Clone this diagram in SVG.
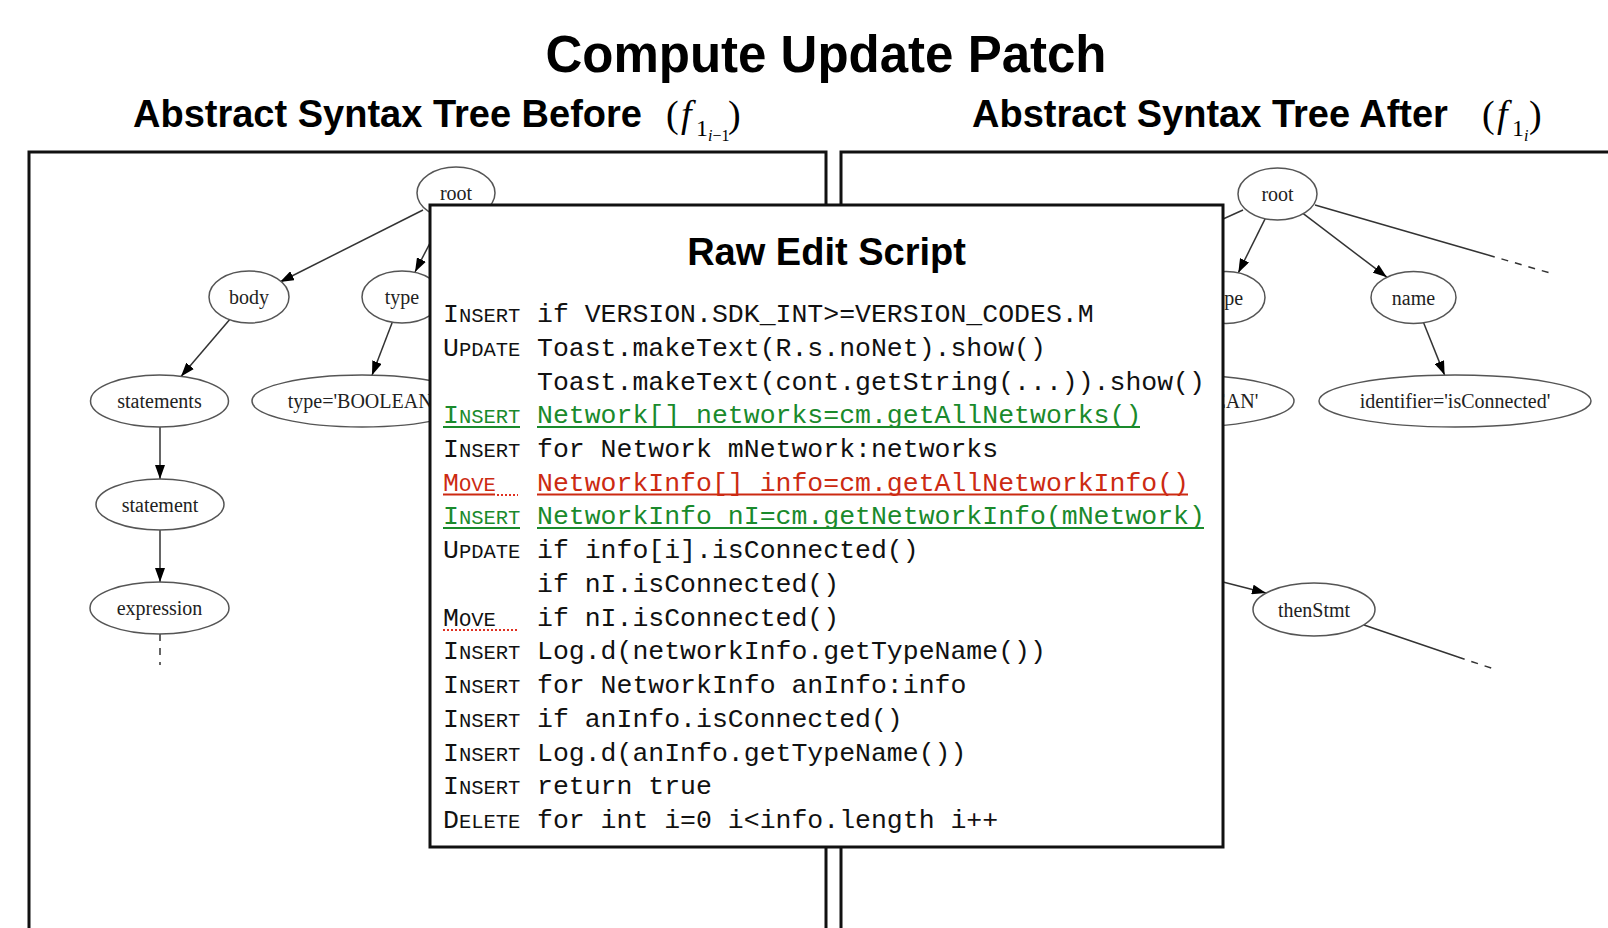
<svg xmlns="http://www.w3.org/2000/svg" width="1608" height="928" viewBox="0 0 1608 928">
<style>
.title{font-family:"Liberation Sans",Arial,sans-serif;font-weight:bold;font-size:51px;fill:#000}
.sub{font-family:"Liberation Sans",Arial,sans-serif;font-weight:bold;font-size:38px;fill:#000}
.math{font-family:"Liberation Serif","Times New Roman",serif;fill:#000}
.frame{fill:none;stroke:#111;stroke-width:3}
.box{fill:#fff;stroke:#111;stroke-width:3}
.node ellipse{fill:#fff;stroke:#555;stroke-width:1.5}
.node text{font-family:"Liberation Serif","Times New Roman",serif;font-size:20px;fill:#222;text-anchor:middle}
.edge{stroke:#333;stroke-width:1.5;fill:none}
.arrow{marker-end:url(#ah)}
.dash{stroke-dasharray:7 7}
.code{font-family:"Liberation Mono","Courier New",monospace;font-size:26.5px;fill:#111;white-space:pre}
.sc{font-size:20.5px}
.g{fill:#1a8a2c}
.r{fill:#cc2a12}
.ug{stroke:#1a8a2c;stroke-width:2}
.ur{stroke:#cc2a12;stroke-width:2}
.dot{stroke:#e03020;stroke-width:2;stroke-dasharray:2 2}
.bt{font-family:"Liberation Sans",Arial,sans-serif;font-weight:bold;font-size:38px;fill:#000;text-anchor:middle}
</style>
<defs>
<marker id="ah" markerWidth="14" markerHeight="10" refX="14" refY="5" orient="auto" markerUnits="userSpaceOnUse"><path d="M0,0 L14,5 L0,10 z" fill="#000"/></marker>
<clipPath id="rightvis"><rect x="1223" y="0" width="400" height="928"/></clipPath>
<clipPath id="leftvis"><rect x="0" y="0" width="430" height="928"/><rect x="0" y="0" width="1608" height="205"/></clipPath>
</defs>

<g id="titles">
<text class="title" x="826" y="72" text-anchor="middle">Compute Update Patch</text>
<text class="sub" x="133" y="127">Abstract Syntax Tree Before</text>
<text class="math"><tspan x="666" y="127" font-size="38">(</tspan><tspan x="681" y="127" font-size="38" font-style="italic">f</tspan><tspan x="696" y="136" font-size="24">1</tspan><tspan x="708" y="141" font-size="16" font-style="italic">i</tspan><tspan font-size="16">−1</tspan><tspan x="728" y="127" font-size="38">)</tspan></text>
<text class="sub" x="972" y="127">Abstract Syntax Tree After</text>
<text class="math"><tspan x="1482" y="127" font-size="38">(</tspan><tspan x="1497" y="127" font-size="38" font-style="italic">f</tspan><tspan x="1512" y="136" font-size="24">1</tspan><tspan x="1524" y="141" font-size="16" font-style="italic">i</tspan><tspan x="1529" y="127" font-size="38">)</tspan></text>
</g>

<g id="frames">
<rect class="frame" x="29" y="152" width="797" height="800"/>
<rect class="frame" x="841" y="152" width="800" height="800"/>
</g>

<g id="connectors">
<line class="edge arrow" x1="423" y1="210" x2="280" y2="282"/>
<line class="edge arrow" x1="443" y1="218" x2="415" y2="272"/>
<line class="edge arrow" x1="229.5" y1="319.7" x2="181" y2="376.5"/>
<line class="edge arrow" x1="392.3" y1="322.2" x2="372" y2="375.2"/>
<line class="edge arrow" x1="160" y1="427" x2="160" y2="479"/>
<line class="edge arrow" x1="160" y1="530" x2="160" y2="582"/>
<line class="edge dash" x1="160" y1="634" x2="160" y2="665"/>
<line class="edge" x1="1243" y1="210" x2="1130" y2="261"/>
<line class="edge arrow" x1="1265.2" y1="218.7" x2="1238.3" y2="272.8"/>
<line class="edge arrow" x1="1303.3" y1="213.7" x2="1386.9" y2="277.2"/>
<line class="edge" x1="1315" y1="205" x2="1488" y2="255"/>
<line class="edge dash" x1="1488" y1="255" x2="1550" y2="273"/>
<line class="edge arrow" x1="1423.6" y1="322.8" x2="1444.6" y2="375.1"/>
<line class="edge arrow" x1="1180" y1="571" x2="1266" y2="593"/>
<line class="edge" x1="1364" y1="625" x2="1458" y2="657"/>
<line class="edge dash" x1="1458" y1="657" x2="1497" y2="670"/>
</g>

<g id="node-root-before" class="node"><ellipse cx="456" cy="193" rx="39" ry="26"/><text x="456" y="200">root</text></g>
<g id="node-body" class="node"><ellipse cx="249" cy="297" rx="40" ry="26"/><text x="249" y="304">body</text></g>
<g id="node-type-before" class="node"><ellipse cx="402" cy="297" rx="40" ry="26"/><text x="402" y="304" clip-path="url(#leftvis)">type</text></g>
<g id="node-statements" class="node"><ellipse cx="159.5" cy="401" rx="69" ry="26"/><text x="159.5" y="408">statements</text></g>
<g id="node-typebool-before" class="node"><ellipse cx="362" cy="401" rx="110" ry="26"/><text x="362" y="408" clip-path="url(#leftvis)">type='BOOLEAN'</text></g>
<g id="node-statement" class="node"><ellipse cx="160" cy="504.5" rx="64" ry="25.5"/><text x="160" y="511.5">statement</text></g>
<g id="node-expression" class="node"><ellipse cx="159.5" cy="608" rx="69.5" ry="26"/><text x="159.5" y="615">expression</text></g>

<g id="node-root-after" class="node"><ellipse cx="1277.5" cy="194" rx="39.5" ry="26"/><text x="1277.5" y="201">root</text></g>
<g id="node-type-after" class="node"><ellipse cx="1226" cy="297.5" rx="39" ry="26"/><text x="1226" y="304.5" clip-path="url(#rightvis)">type</text></g>
<g id="node-name" class="node"><ellipse cx="1413.5" cy="297.5" rx="42.5" ry="26"/><text x="1413.5" y="304.5">name</text></g>
<g id="node-typebool-after" class="node"><ellipse cx="1184" cy="401" rx="110" ry="26"/><text x="1184" y="408" clip-path="url(#rightvis)">type='BOOLEAN'</text></g>
<g id="node-identifier" class="node"><ellipse cx="1455" cy="401" rx="136" ry="26"/><text x="1455" y="408">identifier='isConnected'</text></g>
<g id="node-thenStmt" class="node"><ellipse cx="1314" cy="609.5" rx="61" ry="26.5"/><text x="1314" y="616.5">thenStmt</text></g>

<g id="edit-script">
<rect class="box" x="430" y="205" width="793" height="642"/>
<text class="bt" x="826.5" y="265">Raw Edit Script</text>
<text class="code" y="322"><tspan x="443">I</tspan><tspan class="sc">NSERT</tspan><tspan x="537">if VERSION.SDK_INT&gt;=VERSION_CODES.M</tspan></text>
<text class="code" y="355.7"><tspan x="443">U</tspan><tspan class="sc">PDATE</tspan><tspan x="537">Toast.makeText(R.s.noNet).show()</tspan></text>
<text class="code" y="389.5"><tspan x="537">Toast.makeText(cont.getString(...)).show()</tspan></text>
<text class="code g" y="423.2"><tspan x="443">I</tspan><tspan class="sc">NSERT</tspan><tspan x="537">Network[] networks=cm.getAllNetworks()</tspan></text>
<text class="code" y="456.9"><tspan x="443">I</tspan><tspan class="sc">NSERT</tspan><tspan x="537">for Network mNetwork:networks</tspan></text>
<text class="code r" y="490.7"><tspan x="443">M</tspan><tspan class="sc">OVE</tspan><tspan x="537">NetworkInfo[] info=cm.getAllNetworkInfo()</tspan></text>
<text class="code g" y="524.4"><tspan x="443">I</tspan><tspan class="sc">NSERT</tspan><tspan x="537">NetworkInfo nI=cm.getNetworkInfo(mNetwork)</tspan></text>
<text class="code" y="558.1"><tspan x="443">U</tspan><tspan class="sc">PDATE</tspan><tspan x="537">if info[i].isConnected()</tspan></text>
<text class="code" y="591.8"><tspan x="537">if nI.isConnected()</tspan></text>
<text class="code" y="625.6"><tspan x="443">M</tspan><tspan class="sc">OVE</tspan><tspan x="537">if nI.isConnected()</tspan></text>
<text class="code" y="659.3"><tspan x="443">I</tspan><tspan class="sc">NSERT</tspan><tspan x="537">Log.d(networkInfo.getTypeName())</tspan></text>
<text class="code" y="693"><tspan x="443">I</tspan><tspan class="sc">NSERT</tspan><tspan x="537">for NetworkInfo anInfo:info</tspan></text>
<text class="code" y="726.8"><tspan x="443">I</tspan><tspan class="sc">NSERT</tspan><tspan x="537">if anInfo.isConnected()</tspan></text>
<text class="code" y="760.5"><tspan x="443">I</tspan><tspan class="sc">NSERT</tspan><tspan x="537">Log.d(anInfo.getTypeName())</tspan></text>
<text class="code" y="794.2"><tspan x="443">I</tspan><tspan class="sc">NSERT</tspan><tspan x="537">return true</tspan></text>
<text class="code" y="828"><tspan x="443">D</tspan><tspan class="sc">ELETE</tspan><tspan x="537">for int i=0 i&lt;info.length i++</tspan></text>
<g id="underlines">
<line class="ug" x1="443" y1="427" x2="520" y2="427"/>
<line class="ug" x1="537" y1="427" x2="1140" y2="427"/>
<line class="ur" x1="443" y1="494.5" x2="495" y2="494.5"/>
<line class="dot" x1="497" y1="495" x2="518" y2="495"/>
<line class="ur" x1="537" y1="494.5" x2="1188" y2="494.5"/>
<line class="ug" x1="443" y1="528" x2="520" y2="528"/>
<line class="ug" x1="537" y1="528" x2="1204" y2="528"/>
<line class="dot" x1="443" y1="630" x2="518" y2="630"/>
</g>
</g>
</svg>
